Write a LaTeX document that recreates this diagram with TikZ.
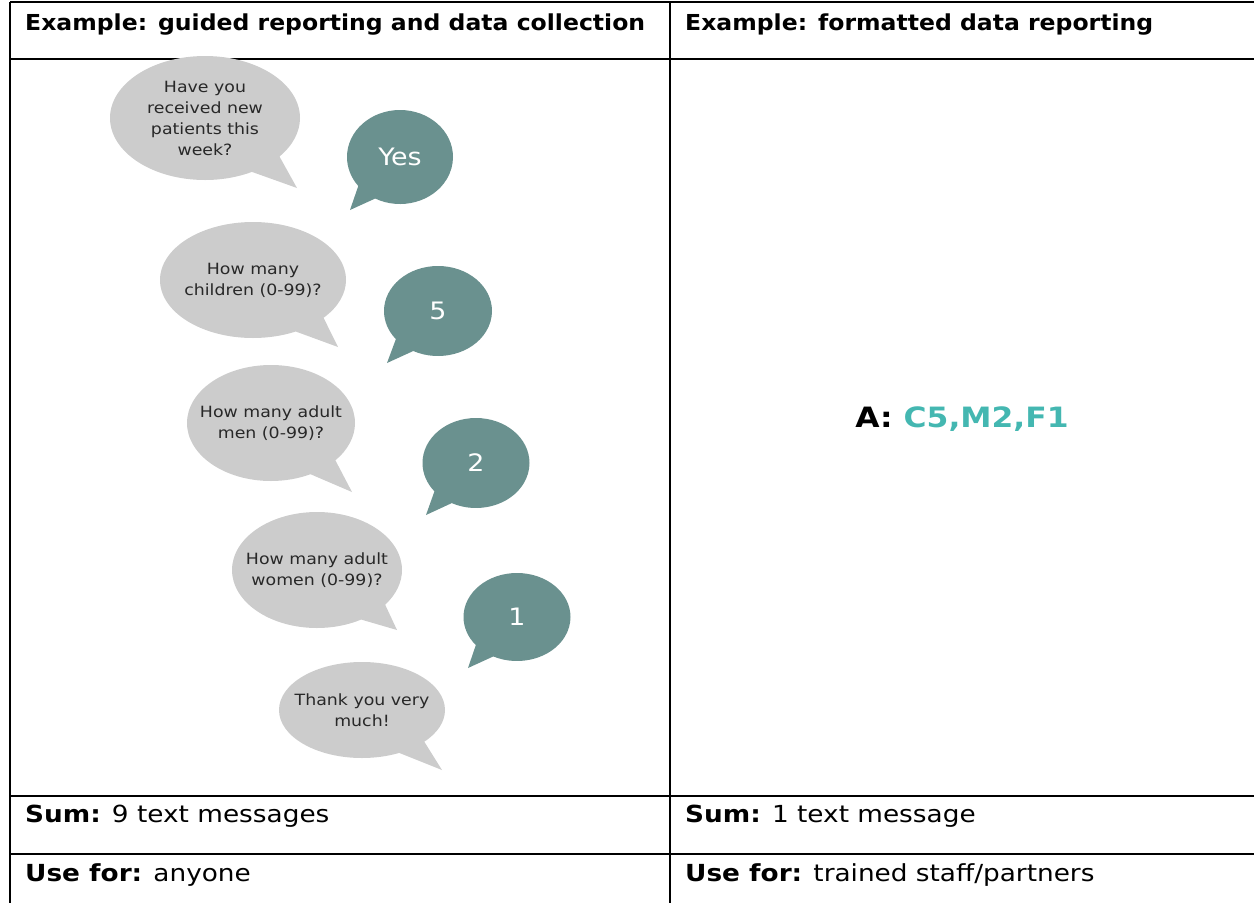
\documentclass[tikz,border=0pt]{standalone}
\usepackage{fontspec}
\setmainfont{DejaVu Sans}[FakeStretch=1.12]
\newfontfamily\headfont{DejaVu Sans}[FakeStretch=1.07]
\usetikzlibrary{shapes.callouts, positioning}
\definecolor{bubblegray}{RGB}{204,204,204}
\definecolor{bubbleteal}{RGB}{106,145,143}
\definecolor{codeteal}{RGB}{68,183,177}
\definecolor{bubbletext}{RGB}{40,40,40}
\tikzstyle{question} = [ellipse callout, fill=bubblegray, text=bubbletext, align=center, inner xsep=-55pt, inner ysep=-30pt, callout pointer arc=22, font=\fontsize{15.5}{21}\selectfont]
\tikzstyle{answer} = [ellipse callout, fill=bubbleteal, text=white, inner sep=0pt, callout pointer arc=24, font=\fontsize{24}{28}\selectfont]
\tikzstyle{cell} = [anchor=west, inner sep=0pt, font=\fontsize{23.5}{27}\selectfont]
\tikzstyle{headcell} = [anchor=west, inner sep=0pt, font=\headfont\fontsize{22}{26}\selectfont\bfseries]
\tikzstyle{rule} = [line width=2.2pt]

\begin{document}
\begin{tikzpicture}[x=1pt, y=-1pt]
    \useasboundingbox (0,0) rectangle (1254,903);
    \draw[rule] (10,2) -- (1254,2);
    \draw[rule] (10,59) -- (1254,59);
    \draw[rule] (10,796) -- (1254,796);
    \draw[rule] (10,854) -- (1254,854);
    \draw[rule] (10,2) -- (10,903);
    \draw[rule] (670,2) -- (670,903);
    \node[headcell] (head1) at (25,25) {Example: guided reporting and data collection};
    \node[headcell] (head2) at (685,25) {Example: formatted data reporting};
    \node[cell] (sum1) at (25,816) {\textbf{Sum:} 9 text messages};
    \node[cell] (sum2) at (685,816) {\textbf{Sum:} 1 text message};
    \node[cell] (use1) at (25,875) {\textbf{Use for:} anyone};
    \node[cell] (use2) at (685,875) {\textbf{Use for:} trained staff/partners};
    \node[inner sep=0pt, font=\fontsize{28}{32}\selectfont\bfseries] (code) at (962,419) {A: \textcolor{codeteal}{C5,M2,F1}};
    \node[question, minimum width=190pt, minimum height=124pt, callout absolute pointer={(297,188)}] (q1) at (205,118) {Have you\\received new\\patients this\\week?};
    \node[answer, minimum width=106pt, minimum height=94pt, callout absolute pointer={(350,210)}] (a1) at (400,157) {Yes};
    \node[question, minimum width=186pt, minimum height=116pt, callout absolute pointer={(338,347)}] (q2) at (253,280) {How many\\children (0-99)?};
    \node[answer, minimum width=108pt, minimum height=90pt, callout absolute pointer={(387,363)}] (a2) at (438,311) {5};
    \node[question, minimum width=168pt, minimum height=116pt, callout absolute pointer={(352,492)}] (q3) at (271,423) {How many adult\\men (0-99)?};
    \node[answer, minimum width=107pt, minimum height=90pt, callout absolute pointer={(426,515)}] (a3) at (476,463) {2};
    \node[question, minimum width=170pt, minimum height=116pt, callout absolute pointer={(397,630)}] (q4) at (317,570) {How many adult\\women (0-99)?};
    \node[answer, minimum width=107pt, minimum height=88pt, callout absolute pointer={(468,668)}] (a4) at (517,617) {1};
    \node[question, minimum width=166pt, minimum height=96pt, callout absolute pointer={(442,770)}] (q5) at (362,710) {Thank you very\\much!};
\end{tikzpicture}
\end{document}
